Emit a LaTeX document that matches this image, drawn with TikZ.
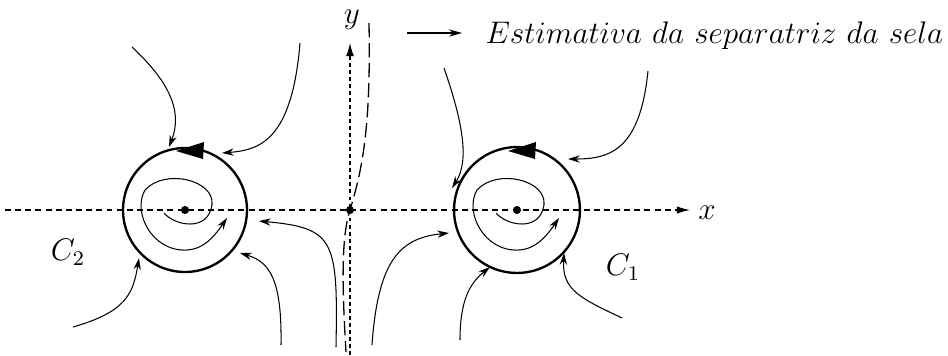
\documentclass[tikz,border=0pt]{standalone}
\usepackage{amsmath,amssymb}
\usetikzlibrary{arrows.meta}

\begin{document}
\begin{tikzpicture}[
    x=0.0135cm, y=-0.0135cm,
    font=\large,
    axis/.style={dash pattern=on 2.3pt off 1.6pt, line width=0.4pt},
    yaxis/.style={dash pattern=on 1.5pt off 1.2pt, line width=0.4pt},
    sepx/.style={dash pattern=on 5.5pt off 2.2pt, line width=0.5pt},
    flow/.style={-{Stealth[length=4.5pt,width=2.8pt]}, line width=0.4pt},
    orbit/.style={line width=0.9pt},
    eq/.style={circle, fill, inner sep=1.1pt}
]
\useasboundingbox (0,0) rectangle (948,355);

\coordinate (c2) at (185,210);
\coordinate (c1) at (517,210);
\coordinate (s) at (350,210);

% eixos
\draw[axis, -{Latex[length=5pt,width=2.8pt]}] (5,210) -- (690,210);
\draw[yaxis, -{Latex[length=5pt,width=3pt]}] (350,355) -- (350,43);
\node (lx) at (707,213) {$x$};
\node (ly) at (352,20) {$y$};

% ciclos limite
\draw[orbit] (c2) circle[radius=0.837cm];
\draw[orbit] (c1) circle[radius=0.85cm];
\foreach \c in {c2,c1} {
  \begin{scope}[shift={(\c)}]
    \fill (-9,-59) -- (19,-68) -- (18,-51) -- cycle;
  \end{scope}
}
\node[eq] at (c2) {};
\node[eq] at (c1) {};
\node[eq] at (s) {};
\node (lc2) at (68,252) {$C_2$};
\node (lc1) at (623,267) {$C_1$};

% espirais internas
\foreach \dx in {0,332} {
  \begin{scope}[xshift=\dx*0.0135cm]
    \draw[flow] (164,213) .. controls (175,226) and (208,232) .. (212,205)
      .. controls (215,180) and (165,168) .. (145,190)
      .. controls (132,212) and (152,252) .. (187,250)
      .. controls (205,249) and (216,234) .. (227,218);
  \end{scope}
}

% trajetorias em torno de C2
\draw[flow] (132,47) .. controls (165,78) and (184,108) .. (169,147);
\draw[flow] (300,43) .. controls (292,140) and (260,150) .. (222,153);
\draw[flow] (73,327) .. controls (125,312) and (133,295) .. (139,258);
\draw[flow] (281,345) .. controls (282,280) and (270,262) .. (240,253);
\draw[flow] (336,347) .. controls (338,240) and (335,228) .. (259,221);

% trajetorias em torno de C1
\draw[flow] (444,68) .. controls (462,120) and (470,160) .. (452,188);
\draw[flow] (648,71) .. controls (640,150) and (610,159) .. (568,159);
\draw[flow] (372,345) .. controls (378,260) and (400,238) .. (449,233);
\draw[flow] (460,340) .. controls (460,300) and (470,283) .. (490,267);
\draw[flow] (622,318) .. controls (580,298) and (562,290) .. (564,253);

% separatriz estimada
\draw[sepx] (369,23) .. controls (371,130) and (362,170) .. (s)
  .. controls (340,240) and (343,300) .. (346,352);

% legenda
\coordinate (la) at (407,33);
\coordinate (lb) at (462,33);
\draw[-{Stealth[length=5pt,width=2.8pt]}, line width=0.4pt] (la) -- (lb);
\node[anchor=base west, inner sep=0pt] (leg) at (485,43) {$Estimativa\ da\ separatriz\ da\ sela$};

\end{tikzpicture}
\end{document}
